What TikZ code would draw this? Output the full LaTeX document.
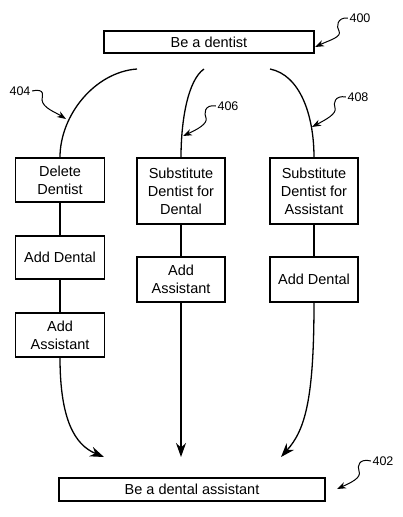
\documentclass[tikz,border=0pt]{standalone}
\usepackage{fontspec}
\setmainfont{Liberation Sans}
\usetikzlibrary{arrows.meta}
\tikzset{
  stepbox/.style={draw, line width=1.3pt, minimum width=89pt, inner sep=1pt, align=center, font=\fontsize{14.5}{18}\selectfont},
  reflabel/.style={inner sep=1pt, font=\fontsize{12.5}{14}\selectfont},
  refarrow/.style={line width=1pt, -{Stealth[length=9pt,width=6.5pt]}},
}
\begin{document}
\begin{tikzpicture}[x=1pt,y=-1pt,>={Stealth[length=14pt,width=10pt]},line width=1.3pt]
            \useasboundingbox (0,0) rectangle (402,517);
            \node[stepbox, minimum width=210pt, minimum height=22pt] (dentist) at (209,42) {Be a dentist};
            \node[stepbox, minimum width=266pt, minimum height=23pt] (assistant) at (192,489.5) {Be a dental assistant};
            \node[stepbox, minimum height=44pt] (deldentist) at (60,180) {Delete\\Dentist};
            \node[stepbox, minimum height=43pt] (adddental) at (60,257.5) {Add Dental};
            \node[stepbox, minimum height=44pt] (addassist) at (60,335) {Add\\Assistant};
            \node[stepbox, minimum width=88pt, minimum height=66pt] (subdental) at (181,191) {Substitute\\Dentist for\\Dental};
            \node[stepbox, minimum width=88pt, minimum height=45pt] (addassistb) at (181,279.5) {Add\\Assistant};
            \node[stepbox, minimum width=88pt, minimum height=66pt] (subassist) at (314,191) {Substitute\\Dentist for\\Assistant};
            \node[stepbox, minimum width=88pt, minimum height=45pt] (adddentalb) at (314,279.5) {Add Dental};
            \coordinate (leftstart) at (137,69);
            \coordinate (midstart) at (204,69);
            \coordinate (rightstart) at (270,69);
            \coordinate (leftend) at (104,457);
            \coordinate (midend) at (181,457);
            \coordinate (rightend) at (281,457);
            \draw (leftstart) .. controls (95,72) and (60,115) .. (deldentist.north);
            \draw (midstart) .. controls (188,80) and (181,120) .. (subdental.north);
            \draw (rightstart) .. controls (300,75) and (314,115) .. (subassist.north);
            \draw (deldentist) -- (adddental);
            \draw (adddental) -- (addassist);
            \draw (subdental) -- (addassistb);
            \draw (subassist) -- (adddentalb);
            \draw[->] (addassist.south) .. controls (60,420) and (75,445) .. (leftend);
            \draw[->] (addassistb.south) -- (midend);
            \draw[->] (adddentalb.south) .. controls (314,400) and (305,430) .. (rightend);
            \node[reflabel] (ref400) at (360,18) {400};
            \node[reflabel] (ref402) at (383,461) {402};
            \node[reflabel] (ref404) at (20,91) {404};
            \node[reflabel] (ref406) at (228,106) {406};
            \node[reflabel] (ref408) at (358,97) {408};
            \coordinate (tip400) at (315,47);
            \coordinate (tip402) at (337,489);
            \coordinate (tip404) at (66,119);
            \coordinate (tip406) at (183,136);
            \coordinate (tip408) at (312,127);
            \draw[refarrow] (ref400.west) .. controls (337,17) and (336,27) .. (339,31) .. controls (342,37) and (330,40) .. (tip400);
            \draw[refarrow] (ref402.west) .. controls (359,458) and (357,466) .. (359,471) .. controls (362,478) and (350,483) .. (tip402);
            \draw[refarrow] (ref404.east) .. controls (46,88) and (42,96) .. (42,100) .. controls (43,108) and (55,112) .. (tip404);
            \draw[refarrow] (ref406.west) .. controls (204,104) and (204,114) .. (206,118) .. controls (208,124) and (196,130) .. (tip406);
            \draw[refarrow] (ref408.west) .. controls (335,95) and (333,103) .. (335,108) .. controls (337,114) and (325,120) .. (tip408);
        \end{tikzpicture}
\end{document}
